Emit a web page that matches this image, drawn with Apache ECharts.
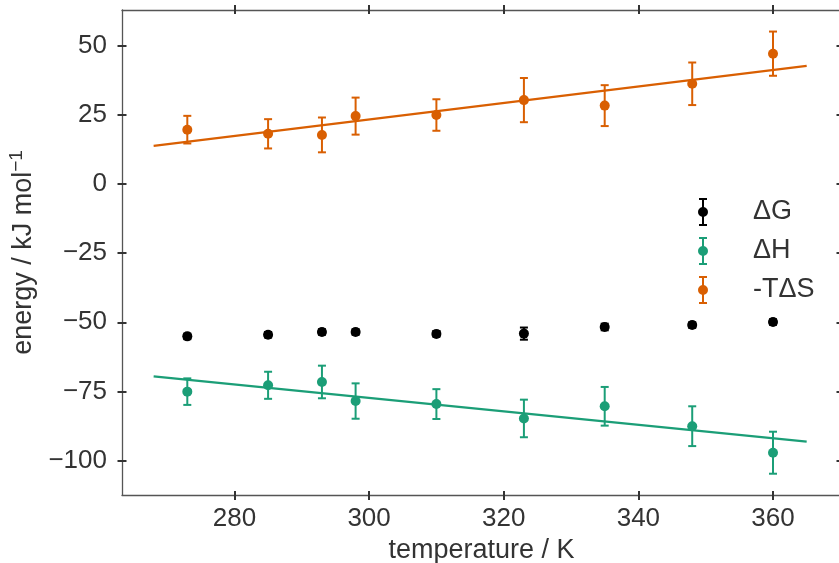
<!DOCTYPE html>
<html>
<head>
<meta charset="utf-8">
<script src="https://cdn.jsdelivr.net/npm/echarts@6/dist/echarts.min.js"></script>
<style>
  html, body { margin: 0; padding: 0; background: #fff; }
  #chart { width: 839px; height: 563px; }
</style>
</head>
<body>
<div id="chart"></div>
<script>
// Temperatures (K) and the thermodynamic terms (kJ/mol) with their uncertainties
const temps = [273, 285, 293, 298, 310, 323, 335, 348, 360];
const dG = [-55.1, -54.5, -53.5, -53.5, -54.2, -54.1, -51.7, -51.0, -49.9];
const dGErr = [1.0, 1.0, 1.0, 1.0, 1.0, 2.2, 1.2, 1.0, 1.0];
const dH = [-75.1, -72.8, -71.6, -78.5, -79.6, -84.8, -80.4, -87.6, -97.2];
const dHErr = [4.8, 4.9, 5.9, 6.4, 5.4, 6.8, 7.0, 7.2, 7.6];
const mTdS = [19.7, 18.2, 17.8, 24.6, 25.0, 30.4, 28.4, 36.3, 47.2];
const mTdSErr = [5.0, 5.3, 6.3, 6.7, 5.7, 8.0, 7.4, 7.7, 8.0];

// Linear fits (endpoints of the fitted temperature range)
const fitT = [268, 365];
const fitH = [-69.6, -93.2];
const fitTdS = [13.8, 42.8];

// Tick positions
const xTicks = [280, 300, 320, 340, 360];
const yTicks = [-100, -75, -50, -25, 0, 25, 50];

const names = ['ΔG', 'ΔH', '-TΔS'];
const colors = ['#000000', '#1b9e77', '#d95f02'];

const X_MIN = 263.3, X_MAX = 370.1;
const Y_MIN = -112.5, Y_MAX = 63.0;
const FONT = '"Liberation Sans", Arial, sans-serif';
const FS = 26;      // tick labels
const FS_NAME = 27; // axis titles and legend
const TEXT = '#333333';
const SPINE = '#555555';

function zip(xs, ys) { return xs.map((x, i) => [x, ys[i]]); }
function errData(xs, ys, es) { return xs.map((x, i) => [x, ys[i] - es[i], ys[i] + es[i]]); }

function renderErr(params, api) {
  const lo = api.coord([api.value(0), api.value(1)]);
  const hi = api.coord([api.value(0), api.value(2)]);
  const cap = 4;
  const style = { stroke: api.visual('color'), lineWidth: 2 };
  return {
    type: 'group',
    children: [
      { type: 'line', shape: { x1: lo[0], y1: lo[1], x2: hi[0], y2: hi[1] }, style },
      { type: 'line', shape: { x1: lo[0] - cap, y1: lo[1], x2: lo[0] + cap, y2: lo[1] }, style },
      { type: 'line', shape: { x1: hi[0] - cap, y1: hi[1], x2: hi[0] + cap, y2: hi[1] }, style }
    ]
  };
}

function xAxisDef(position, inside, main) {
  return {
    type: 'value', min: X_MIN, max: X_MAX, position: position,
    axisLine: { show: main, onZero: false, lineStyle: { color: SPINE, width: 1.3 } },
    axisTick: { show: true, inside: inside, length: inside ? 4 : 5, customValues: xTicks,
                lineStyle: { color: TEXT, width: 2 } },
    axisLabel: { show: main && position === 'bottom', customValues: xTicks, fontSize: FS,
                 color: TEXT, fontFamily: FONT, margin: 11 },
    splitLine: { show: false },
    name: main && position === 'bottom' ? 'temperature / K' : '',
    nameLocation: 'middle', nameGap: 41,
    nameTextStyle: { fontSize: FS_NAME, color: TEXT, fontFamily: FONT }
  };
}

function yAxisDef(position, inside, main) {
  return {
    type: 'value', min: Y_MIN, max: Y_MAX, position: position,
    axisLine: { show: main, onZero: false, lineStyle: { color: SPINE, width: 1.3 } },
    axisTick: { show: true, inside: inside, length: 4.5, customValues: yTicks,
                lineStyle: { color: TEXT, width: 2 } },
    axisLabel: { show: main && position === 'left', customValues: yTicks, fontSize: FS,
                 color: TEXT, fontFamily: FONT, margin: 15,
                 formatter: v => String(v).replace('-', '\u2212') },
    splitLine: { show: false },
    name: main && position === 'left' ? 'energy / kJ mol{s|\u22121}' : '',
    nameLocation: 'middle', nameGap: 77,
    nameTextStyle: { fontSize: FS_NAME, color: TEXT, fontFamily: FONT,
                     rich: { s: { fontSize: 19, color: TEXT, fontFamily: FONT, padding: [0, 0, 14, 0] } } }
  };
}

// Legend glyph: marker with a capped vertical error bar
const legendIcon = 'path://M1,0H9V2H1Z M1,26H9V28H1Z M4,0H6V28H4Z M0,14A5,5 0 1,1 10,14A5,5 0 1,1 0,14Z';

const series = [];
const values = [dG, dH, mTdS];
const errs = [dGErr, dHErr, mTdSErr];

// fitted lines
series.push({ name: names[1], type: 'line', data: zip(fitT, fitH), showSymbol: false, symbol: 'none',
              lineStyle: { color: colors[1], width: 2.2 }, itemStyle: { color: colors[1] }, z: 2, silent: true });
series.push({ name: names[2], type: 'line', data: zip(fitT, fitTdS), showSymbol: false, symbol: 'none',
              lineStyle: { color: colors[2], width: 2.2 }, itemStyle: { color: colors[2] }, z: 2, silent: true });

for (let k = 0; k < 3; k++) {
  series.push({ name: names[k], type: 'custom', renderItem: renderErr,
                data: errData(temps, values[k], errs[k]), itemStyle: { color: colors[k] },
                encode: { x: 0, y: [1, 2] }, z: 3, silent: true });
  series.push({ name: names[k], type: 'scatter', data: zip(temps, values[k]), symbol: 'circle',
                symbolSize: 10, itemStyle: { color: colors[k], opacity: 1 }, z: 4, silent: true });
}

const chart = echarts.init(document.getElementById('chart'), null, { renderer: 'canvas' });
chart.setOption({
  backgroundColor: '#ffffff',
  animation: false,
  grid: { left: 122, top: 10, width: 719, height: 485, containLabel: false, outerBoundsMode: 'none' },
  xAxis: [xAxisDef('bottom', false, true), xAxisDef('bottom', true, false),
          xAxisDef('top', false, true), xAxisDef('top', true, false)],
  yAxis: [yAxisDef('left', false, true), yAxisDef('left', true, false),
          yAxisDef('right', false, true), yAxisDef('right', true, false)],
  legend: {
    orient: 'vertical', left: 693, top: 193, itemGap: 11,
    itemWidth: 90, itemHeight: 28, symbolKeepAspect: true,
    textStyle: { fontSize: FS_NAME, color: TEXT, fontFamily: FONT },
    data: names.map((n, i) => ({ name: n, icon: legendIcon, itemStyle: { color: colors[i] } }))
  },
  series: series
});
</script>
</body>
</html>
